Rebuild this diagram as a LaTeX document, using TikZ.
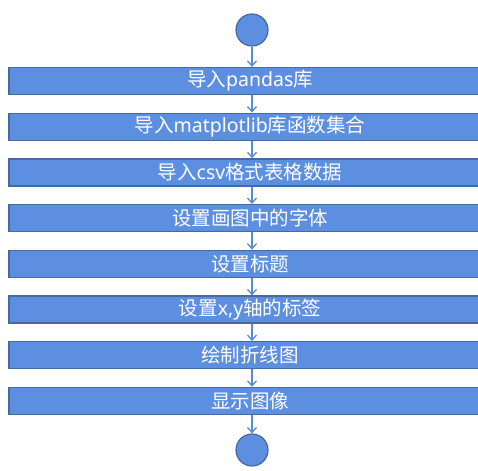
\documentclass[tikz,border=0pt]{standalone}
\usepackage{fontspec}
\setmainfont{Noto Sans CJK SC}
\newfontfamily\lat{Noto Sans}
\usetikzlibrary{arrows.meta}
\definecolor{boxfill}{RGB}{92,143,224}
\definecolor{boxline}{RGB}{70,105,160}
\definecolor{arrowc}{RGB}{88,138,214}
\tikzset{
  stepbox/.style={rectangle, draw=boxline, line width=1.3pt, fill=boxfill,
    minimum width=482pt, minimum height=27pt, inner sep=0pt,
    text=white, font=\fontsize{19.5}{21}\selectfont},
  endcircle/.style={circle, draw=boxline, line width=1.2pt, fill=boxfill,
    minimum size=32pt, inner sep=0pt},
  flow/.style={draw=arrowc, line width=1.3pt, -{Straight Barb[length=5pt,width=9pt,line width=1.3pt]}}
}
\begin{document}
\begin{tikzpicture}[x=1pt,y=-1pt]
\useasboundingbox (0,0) rectangle (478,470);
\begin{scope}
\clip (0,0) rectangle (478,470);
\node[endcircle] (start) at (252,30) {};
\node[stepbox] (b1) at (250,81) {导入{\lat pandas}库};
\node[stepbox] (b2) at (250,126.7) {导入{\lat matplotlib}库函数集合};
\node[stepbox] (b3) at (250,172.4) {导入{\lat csv}格式表格数据};
\node[stepbox] (b4) at (250,218.1) {设置画图中的字体};
\node[stepbox] (b5) at (250,263.8) {设置标题};
\node[stepbox] (b6) at (250,309.5) {设置{\lat x,y}轴的标签};
\node[stepbox] (b7) at (250,355.2) {绘制折线图};
\node[stepbox] (b8) at (250,400.9) {显示图像};
\node[endcircle] (stop) at (252,450) {};
\draw[flow] (start.south) -- (start.south |- b1.north);
\foreach \a/\b in {b1/b2,b2/b3,b3/b4,b4/b5,b5/b6,b6/b7,b7/b8}{
  \draw[flow] (start.south |- \a.south) -- (start.south |- \b.north);
}
\draw[flow] (start.south |- b8.south) -- (stop.north);
\end{scope}
\end{tikzpicture}
\end{document}
